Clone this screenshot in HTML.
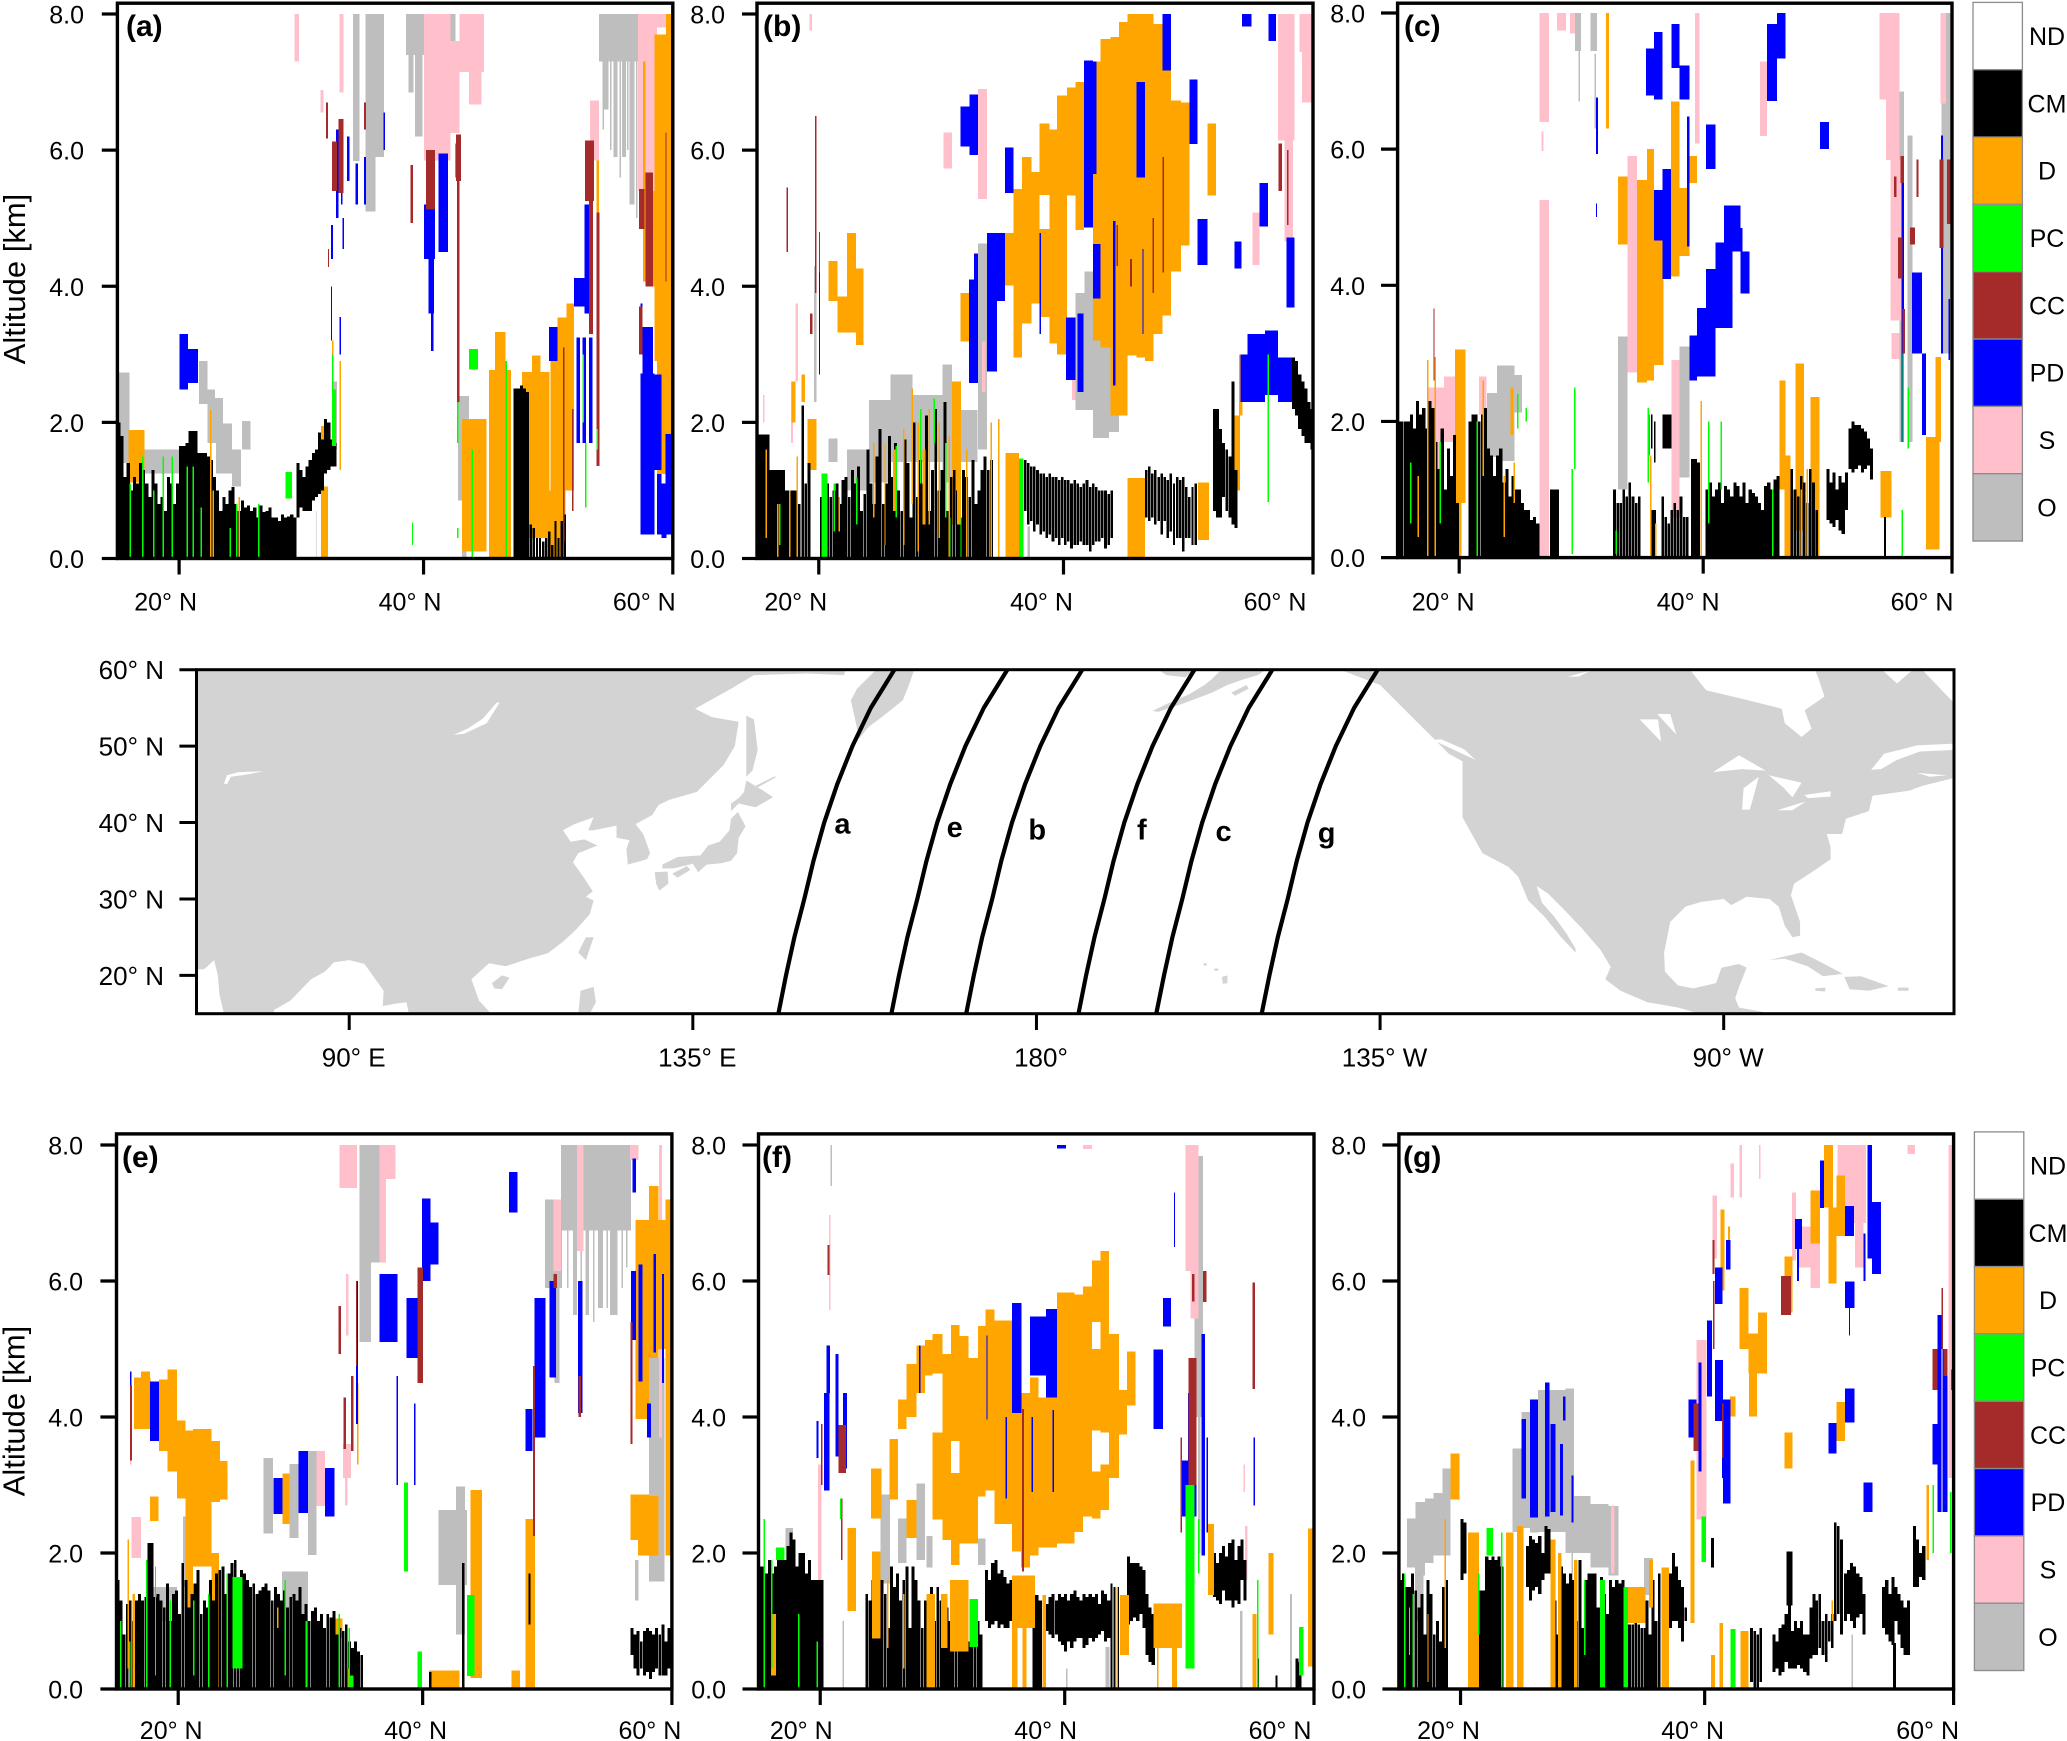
<!DOCTYPE html>
<html lang="en">
<head>
<meta charset="utf-8">
<title>Cloud and aerosol curtains along satellite tracks</title>
<style>
html,body{margin:0;padding:0;background:#fff;width:2067px;height:1741px;overflow:hidden}
svg{display:block}
text{font-family:"Liberation Sans",Arial,sans-serif;fill:#000}
</style>
</head>
<body>
<svg id="chart" xmlns="http://www.w3.org/2000/svg" width="2067" height="1741" viewBox="0 0 2067 1741">
  <rect x="0" y="0" width="2067" height="1741" fill="#fff"/>
  <g id="panels"></g>
  <g id="map"></g>
  <g id="legends"></g>
</svg>
<script>
// ---------- shared categories and ticks ----------
const classNames=['ND','CM','D','PC','CC','PD','S','O'];
const classColors=['#ffffff','#000000','#ffa500','#00ff00','#a52a2a','#0000ff','#ffc0cb','#bebebe'];
const latTicks=[20,40,60];
const latTickLabels=['20° N','40° N','60° N'];
const altTicks=[0,2,4,6,8];
const altTickLabels=['0.0','2.0','4.0','6.0','8.0'];
const colStep=0.25;

// ---------- panel (a): [lat0,lat1,altBottom,altTop] or thin [lat,altBottom,altTop]; CM runs: [startLat,base,tops,fill] ----------
const aO=[[15.1,16,1.4,2.73],[17,20.1,1.25,1.6],[21.6,22.3,2.3,2.9],[21.6,22.9,2.27,2.48],[22.3,23.55,1.7,2.36],[23,24.3,1.25,1.98],[24.3,25,1.06,1.6],[25.1,25.8,1.6,2.02],[34.1,34.6,5.84,8],[35.1,36.6,5.9,8],[35.1,35.9,5.1,6],[38.4,39.9,7.4,8],[38.6,39,6.85,7.4],[39.1,39.7,6.2,7.6],[41.8,42.4,7.5,8],[54,57.2,7.3,8],[53.6,53.8,5.96,6.73],[54.4,54.8,6.6,7.3],[55.2,55.5,5.9,7.3],[55.9,56.2,5.9,7.3],[56.5,56.9,5.2,7.3],[42.6,43.5,0.85,2.39],[42.9,43.3,0,0.85],[32.5,32.8,1.6,2.6],[31.1,31.15,0,0.7],[54.3,6.3,7.3],[54.9,6,7.3],[55.7,5.6,7.3],[56.3,6,7.3],[57,5,7.3]];
const aS=[[29.35,29.7,7.3,8],[31.45,31.7,6.55,6.88],[33,33.3,6.85,8],[39.85,42,5.85,8],[42,42.7,6.25,7.6],[42.7,44.7,7.15,8],[43.5,44.5,6.67,7.15],[53.3,54,5.85,6.73],[57.2,58.7,5.4,8],[58.7,59.5,7.8,8]];
const aD=[[15.9,17.2,1.12,1.89],[31.5,32.05,1.36,1.95],[31.5,32.05,0,1.06],[42.9,44.9,0.1,2.05],[45.1,46.9,0,2.77],[45.6,46.45,2.77,3.33],[47.8,50,0.3,2.74],[48.6,49.3,2.74,2.98],[50.1,52,1,3.2],[50.65,52,3.2,3.54],[51.4,52,3.54,3.75],[50,51.3,0,1],[58.5,60,3.5,7.7],[59.45,60,7.7,8],[57.6,57.8,4.07,7.3],[58,58.5,4,5.4],[58.7,60,1.24,2.9],[53.8,54,2,5.85],[58.5,60,2.9,3.5]];
const aCM=[
[15,0,[2,1.8,1.2,1.4,1,1.2,1.1,1.4,1.3,1.1,0.9,1.3,1.1,0.8,0.9,0.7,1.2,1.1,0.8,1.1,1.65,1.65,1.7,1.87,1.87,1.87,1.55,1.55,1.55,1.5,1.45,1.2,1,0.7,0.9,0.8,1,1.05,0.8,0.7,0.85,0.75,0.78,0.7,0.75,0.6,0.78,0.68,0.7,0.75,0.6,0.6,0.55,0.65,0.6,0.62,0.65,0.6],1],
[29.5,[0.6,0.75,0.7,0.7,0.7,0.85,0.9,0.95,1,1.25,1.3,1.35,1.35],[1.4,1.3,1.2,1.35,1.45,1.55,1.6,1.85,1.75,2.05,2,1.75,1.7],0.85],
[47.1,0,[2.5,2.5,2.54,2.5,2.45],1],
[48.4,0,[0.5,0.45,0.3,0.3,0.25,0.3,0.4,0.2,0.55,0.3,0.55,0.65],0.6]];
const aPD=[[20.03,20.72,2.48,3.3],[20.72,21.55,2.58,3.08],[32.7,32.9,5,6.3],[33.1,33.25,5.2,5.9],[33.6,33.8,5.55,6.2],[34.3,34.5,5.2,5.8],[35,35.15,5.2,5.9],[36.55,36.7,6,6.55],[32.3,32.45,4.4,4.9],[33.25,33.35,4.55,5],[32.3,32.4,3.2,4],[33,33.1,3,3.55],[39.85,40.75,4.4,5.2],[40.2,40.65,3.6,4.4],[40.4,40.6,3.05,3.6],[41,41.8,4.5,5.95],[42.4,42.6,5.6,6.1],[49.95,50.65,2.9,3.4],[52,53.1,3.7,4.12],[52.85,53.2,3.6,5.2],[52.2,52.5,1.7,3.25],[52.7,52.95,1.7,3.25],[53.2,53.5,1.7,3.25],[57.4,58.5,0.35,2.72],[58.7,59.1,0.35,1.24],[59.1,59.5,0.3,1.1],[58.5,59.1,1.3,2.7],[57.55,58.4,2.72,3.4],[57.4,57.55,3.4,3.75],[59.4,60,0.35,1.83]];
const aCC=[[31.9,32.05,6.17,6.7],[32.4,32.8,5.4,6.13],[32.9,33.3,5.37,6.46],[35,35.15,6.3,6.7],[32.05,32.15,4.28,4.55],[40,40.75,5.13,6],[38.75,38.95,4.93,5.78],[42.45,42.85,5.55,6.23],[42.5,42.7,2.3,5.55],[52.9,53.6,5.25,6.14],[53.2,53.55,3.3,5.25],[53.8,54.05,1.36,5.08],[57.25,57.7,4.84,5.43],[57.8,58.4,4,5.67],[57.25,57.55,3,3.7],[59.4,59.5,4.07,6.26],[51.1,0.25,3.1],[51.85,0.7,2.2]];
const aPC=[[32.4,32.7,1.65,2.48],[32.4,2.48,3],[28.6,29.15,0.88,1.27],[43.5,44.2,2.78,3.08],[16,0,1.1],[17,0,1.5],[17.9,0,1],[18.65,0,1.5],[19.4,0,1.5],[20.6,0,1.35],[21.1,0,1.35],[21.75,0,0.75],[24.1,0,0.45],[24.6,0,0.8],[26.4,0,0.8],[43.7,0,1.6],[42.5,1.7,2.3],[42.5,0.3,0.45],[38.85,0.2,0.53],[46.45,0,2.9],[52.9,0.75,1.7],[53.8,1.6,1.9],[52.7,2,3]];
const aDo=[[22.5,0,2.18],[22.7,0,1],[24.8,0,0.9],[32.4,2.5,3.2],[33,1.3,2.9]];

// ---------- panel (b) ----------
const bO=[[24.05,25.8,1.12,2.33],[22.3,24.05,1,1.6],[25.8,27.6,1.42,2.7],[27.6,30,1.42,2.4],[30,30.8,1.12,2.85],[31.45,32.85,1.42,2.18],[32.9,33.6,1.6,4.63],[20.8,21.5,1.42,1.76],[40.77,42.2,2.18,3.9],[41.5,42.18,3.9,4.22],[42.18,43.25,2.07,3.42],[43.25,44.3,1.86,3.13],[42.18,43.5,1.77,2.07],[36.9,37.1,0,0.47],[19.6,19.8,2.3,4.3]];
const bS=[[19.26,19.47,7.76,8],[30.1,30.8,5.73,6.26],[32.9,33.6,5.28,6.9],[33.2,33.5,2.45,3.19],[18.13,18.3,2.6,3.75],[17.75,17.9,1.7,2.6],[15.5,15.6,2,2.4],[55.1,55.67,4.31,5.08],[57.15,58.5,6.14,8],[57.7,58.4,4.66,6.14],[58.9,60,7.44,8],[59.1,60,6.7,7.44],[46.9,47,6.5,8],[48.1,48.2,5.5,6.85],[40.5,40.77,2.33,2.77]];
const bD=[[20.8,21.5,3.78,4.37],[21.5,22.3,3.32,3.85],[22.3,23,3.32,4.78],[23,23.6,3.14,4.26],[31.45,32.15,3.19,3.9],[35.07,35.74,4.01,4.78],[35.74,36.44,2.95,5.43],[36.44,37.2,3.45,5.9],[37.2,37.85,3.75,5.68],[37.85,38.66,5.34,6.39],[37.85,38.66,3.55,4.84],[38.66,39.3,3.16,6.3],[39.3,40.07,3,6.8],[40.07,40.77,5.33,6.92],[40.77,41.48,4.83,7],[41.48,42.18,5,7.3],[42.18,42.8,3.2,7.3],[42.8,43.6,3.1,7.63],[43.6,44.3,2.1,7.66],[44.3,45,2.1,2.95],[44.3,45,2.95,7.88],[45,45.7,2.98,8],[45.7,46.4,2.95,8],[46.4,47.1,2.9,8],[47.1,47.8,3.3,7.85],[47.8,48.5,3.57,7.17],[48.5,49.3,4.22,6.73],[49.3,50,4.6,6.7],[51.45,52.15,5.33,6.39],[30.8,31.5,0.5,2.6],[45,46.4,0,1.18],[50.7,51.6,0.27,1.12],[35.1,36.2,0,1.55],[54,54.3,2.1,3],[53.6,54.1,1,2.1],[19.1,19.8,1.3,2.05],[18.6,18.9,2.3,2.7],[17.8,18.1,2,2.6]];
const bCM=[
[15,0,[1.82,1.82,1.82,1.82,1.3,1.3,1.3,1.3,1.3,1,1,1,1,0.8],1],
[18.6,0,[2.25,1.1,1.4],0.7],
[20.1,0,[0.9,1.2,1.1,0.9,1,1.1,0.8,1.15,1.2,0.9,1.3,1.1,1.35,0.7,0.95,1.6,1.1,0.8,1.5,1.9,0.8,1.1,1.8,1.2,1.7,1,0.7,1.75,1.4,0.6,2,0.9,1.45,1.1,2.1,0.7,1.3,2.2,1,1.3,2.3,0.7,1.2,1.3,1,0.6,1.3,1.2,0.9,1.45,0.8,1,1.3,1.5,1.3,1.45],0.8],
[36.6,[0.7,0.5,0.55,0.4,0.5,0.35,0.4,0.3,0.35,0.25,0.3,0.2,0.3,0.2,0.25,0.15,0.2,0.2,0.25,0.2,0.2,0.1,0.2,0.25,0.25,0.3,0.15,0.2,0.3],[1.45,1.4,1.35,1.35,1.3,1.25,1.25,1.2,1.25,1.2,1.2,1.15,1.2,1.15,1.15,1.1,1.15,1.1,1.05,1.1,1.15,1.05,1.1,1.05,1,1,1,0.95,1],0.7],
[46.4,[0.6,0.55,0.6,0.5,0.55,0.35,0.55,0.3,0.4,0.2,0.3,0.3,0.1,0.3,0.3,0.2,0.2],[1.3,1.35,1.25,1.3,1.2,1.25,1.2,1.15,1.25,1.1,1.2,1.15,1.2,1.05,0.9,1.05,1.1],0.65],
[51.9,[0.7,0.6,0.6,0.9,0.7,0.6,0.5,0.45],[2.2,2.2,1.9,1.7,1.6,1.5,1.7,1.3],0.8],
[53.4,1.7,[2.6],1],
[58.3,[2.2,2.1,1.9,1.8,1.7,1.7,1.6,0],[2.95,2.9,2.7,2.6,2.5,2.3,2.2,1.7],0.9]];
const bPD=[[31.45,32.2,6.05,6.64],[32.2,32.9,5.93,6.82],[35.07,35.74,5.37,6.04],[41.48,42.18,4.86,7.32],[42.18,42.47,5.65,7.3],[47.8,48.5,7.17,8],[45.7,46.4,5.6,7],[50,50.67,6.09,7.04],[50.67,51.45,4.31,4.99],[53.63,54.2,4.26,4.66],[55.67,56.37,4.88,5.52],[54.26,55.04,7.82,8],[56.4,57,7.6,8],[42.18,42.8,3.82,4.62],[32.15,32.9,2.58,4.1],[32.55,32.9,4.1,4.48],[33.63,34.44,2.75,4.78],[34.44,35.07,3.78,4.78],[40,40.77,2.62,3.54],[40.95,41.44,2.45,3.6],[37.85,38,3.3,4.78],[43.8,44,2.54,4.96],[57.85,58.5,3.69,4.72],[54.15,54.7,2.3,3],[54.7,56.1,2.3,3.3],[56.1,57.15,2.4,3.35],[57.15,58.3,2.3,2.95],[46.2,46.3,3.3,4.55],[20,20.1,2.7,4.3]];
const bCC=[[19.7,19.8,3.9,6.5],[17.4,17.5,4.5,5.45],[20,20.1,4.2,4.8],[19.3,19.5,3.3,3.6],[57.2,57.5,5.4,6.1],[57.9,58,4.9,6],[47.8,47.95,4.2,5.9],[45.2,45.35,4,4.4],[47,3.9,5],[44.1,4.3,4.9]];
const bPC=[[36.2,36.55,0,1.47],[20.2,20.7,0,1.25],[56.3,56.45,0.83,3],[16.8,0.2,0.8],[21.2,0.4,1.1],[23,0.5,1.2],[26.2,0.6,1.65],[28.2,1.1,2.2],[29.3,1.7,2.35],[30.2,0.6,1.7],[30.55,0,0.6],[31.45,0,0.6]];
const bDo=[[15.7,0.3,1.6],[16.6,0,0.8],[17.6,0,1],[18.2,0,1.5],[21.6,0.4,0.9],[24.4,0.6,1.7],[25.3,0.2,1.7],[26.8,0.2,1.9],[27.5,0.8,2.5],[28,0.1,2],[28.9,0.5,2.2],[29.7,0.3,2],[30.5,0,1.8],[31.9,0,1.6],[33.9,0,2],[34.5,0,2.05],[35.2,0,1.5],[26,26.25,0.7,1.6],[28.4,28.65,0.5,1.6],[31.2,31.45,0.5,1.4]];

// ---------- panel (c) ----------
const cO=[[32.9,33.65,1,3.25],[37.87,38.7,1.18,3.1],[23.05,24.5,1.42,2.82],[24.5,25.1,2.13,2.68],[22.25,23.6,1.48,2.42],[29.4,29.9,7.44,8],[30.65,31.2,7.44,8],[55.75,56.1,1.7,6.85],[56.4,56.8,1.7,6.2],[59.15,60,3,8],[29.7,29.8,6.7,7.44],[31,31.1,6.3,7.4]];
const cS=[[26.5,27.3,6.4,8],[26.7,26.85,5.97,6.26],[26.5,27.3,0,5.25],[27.95,28.65,7.74,8],[33.65,34.45,2.72,5.9],[37.25,37.87,0.59,2.9],[44.4,45,6.19,7.29],[17.45,18.75,1.24,2.5],[18.75,19.65,1.7,2.66],[21.6,22.2,2.1,2.66],[54.1,55.75,6.73,8],[54.65,55.75,5.84,6.73],[55,55.9,3.48,5.84],[55.1,55.75,2.92,3.3],[59.05,59.5,6.67,8],[39.15,39.5,6.08,8],[29,29.4,7.7,8]];
const cD=[[32.9,33.65,4.6,5.6],[34.45,35.25,2.57,5.55],[35.25,35.8,2.6,6],[35.8,36.6,2.83,4.72],[37.2,37.87,4.13,6.7],[36.6,37.2,4.2,5.5],[37.87,38.7,4.43,5.43],[38.7,39.3,5.5,5.9],[19.65,20.5,0.8,3.06],[19.9,20.2,0,1],[24.15,24.4,1.8,2.5],[31.9,32.15,6.3,8],[46,46.5,1,2.6],[46.5,46.9,0,1.5],[47.3,48,0.4,2.85],[48.5,49.25,0,2.36],[54.2,55.1,0.59,1.27],[57.9,59,0.12,1.77],[58.65,59.1,1.7,2.95]];
const cCM=[
[15,0,[2,2,2,2,2.1,1.9,2.3,2.1,2.2,1.9,2.3,2.2,1.7,1.3,1.9,1,1.6,1.2,1.8,0.8,0,0,0,2,2.1,2.1,2,2.1,2.2,1.6,1.5,1.2,1.5,1.6,1.1,1.3,0.9,1.2,1,1,0.8,0.7,0.7,0.55,0.6,0.5],0.85],
[27.35,0,[1,1,1],1],
[32.5,0,[1,0.8,0.8,1,0.9,1.1,0.9,0.8,0.9,0,0,0,0.7,0.7],0.7],
[35.3,[1.5,1.6,1.4],[2.1,2.1,2],0.4],
[36.5,1.6,[2.1,2.1,2.1],1],
[36.4,0,[0.9,0.6,0.5,0.7,0.8,0.7,0.9,0.6,0.6],0.7],
[38.8,0,[1.45,1.45,1.4],1],
[40,0,[1,1.1,0.9,1,1.1,0.8,1.05,1,0.9,1.1,1.05,0.9,1.1,0.8,1,0.95,0.9,0.8,0.7,1.05,1.1,1,1.15,1.2],0.9],
[46.9,0,[1.3,1,0.9,1.2,1.1,0.8,1.3,1.1,0.7],0.7],
[49.8,[0.55,0.5,0.45,0.55,0.4,0.35,0.7],[1.3,1.1,1.25,1,1.2,1.1,1.25],1],
[51.6,[1.3,1.25,1.3,1.35,1.25,1.3,1.35,1.15],[1.9,2,1.95,1.95,1.9,1.85,1.75,1.6],1],
[54.5,0,[0.6],0.5]];
const cPD=[[35.15,35.8,6.79,7.48],[35.8,36.5,6.73,7.72],[37.25,37.87,7.19,7.84],[37.87,38.7,6.73,7.23],[45,45.8,6.71,7.84],[45.8,46.5,7.33,8],[40.05,40.8,5.71,6.36],[49.3,50,6,6.4],[36.5,37.2,4.09,5.71],[35.8,36.5,4.66,5.4],[38.5,38.7,4.57,6.48],[41.5,42.85,4.63,5.17],[40.8,42.2,3.37,4.63],[42.2,43,4.5,4.84],[42.85,43.57,3.88,4.5],[40.05,41.5,3.51,4.24],[39.3,40.8,2.66,3.67],[38.7,39.3,2.6,3.26],[31.1,31.25,5.93,6.76],[31.1,31.2,5,5.2],[56.75,57.55,3,4.19],[57.55,57.9,1.8,3],[55.9,56.1,1.7,5.5],[59.1,59.25,3,6.2],[59.7,59.85,2.9,3.8]];
const cCC=[[17.9,18,2.6,3.66],[55.8,56.1,5.5,5.9],[55.3,55.5,5.3,5.6],[55.6,56,4.1,4.7],[56.6,57,4.6,4.85],[57.1,57.3,5.3,5.85],[56,56.2,3,3.65],[59,59.3,4.55,5.85],[59.6,59.9,4.9,5.85]];
const cPC=[[21.4,0,2],[18.4,0.5,1.7],[16,0.5,1.4],[24.7,1.9,2.4],[29.3,1.3,2.5],[29.1,0.05,1.3],[25.4,2,2.2],[35.3,1.1,2.2],[32.7,0.05,0.4],[41.2,1,2],[40.2,0.5,2],[45.4,0,1],[56,1.7,3],[56.4,1.6,2.5],[55.9,0,0.7]];
const cDo=[[16,0.5,1.3],[16.6,0.3,1.2],[17.4,0,2.9],[18,0,2.95],[21.9,1.2,2.6],[23.6,0.3,1.2],[24.4,0.8,1.4],[35.5,0,1.5],[35.9,0,0.5],[39.6,0,2.3],[46.4,0,1.5],[47.7,0,1],[48.2,0,1.3]];

// ---------- panel (e) ----------
const eO=[[20.4,21.2,1.5,2.54],[26.9,27.7,2.29,3.4],[29,29.75,2.22,3.31],[30.5,31.2,1.97,3.5],[28.4,30.5,0,1.73],[17.9,19.9,1,1.5],[34.7,36.3,6.27,8],[34.7,35.6,5.1,6.27],[41.1,43.4,1.53,2.63],[42.5,43.25,0.8,2.98],[51,56.7,6.74,8],[49.7,51.1,5.9,7.2],[52,52.3,5.5,6.74],[53,53.3,5.5,6.74],[54,54.4,5.6,6.74],[55,55.6,5.5,6.74],[58.15,59.4,1.58,4.87],[57,57.3,1.3,1.9],[50.5,50.9,4.5,5.9],[51.5,5.9,6.74],[52.6,5.6,6.74],[53.6,5.4,6.74],[54.7,5.6,6.74],[55.9,5.9,6.74],[56.3,6.2,6.74]];
const eS=[[16.2,17,1.93,2.53],[31.2,31.9,2.69,3.5],[33.05,34.5,7.37,8],[33.35,34,3.1,3.6],[33.5,33.7,2.7,3.1],[33.6,33.8,5.2,6.1],[36.3,37.6,7.5,8],[36.3,36.85,6.27,7.5],[50.4,51,6.15,7.2],[52.3,52.85,6.44,8],[56.6,57.3,7.78,8],[58.95,59.2,3.7,8],[16.1,16.2,3.3,4]];
const eD=[[16.4,17.75,3.82,4.58],[17,17.7,4.05,4.67],[18.45,19.15,3.5,4.55],[19.15,19.9,3.2,4.7],[19.9,20.6,2.8,3.95],[20.6,21.2,1.2,3.8],[21.2,22.7,1.8,3.82],[22.7,23.4,2.75,3.65],[23.4,24,2.79,3.35],[17.7,18.4,2.47,2.83],[22.7,23.3,0,2],[28.45,29,2.43,3.17],[32.65,33.3,0.75,1.04],[40.3,42.8,0,0.27],[43.7,44.6,0.16,2.93],[48.15,48.9,0,2.5],[47,47.7,0,0.27],[56.65,58.15,2.19,2.86],[57.25,58.9,1.96,2.84],[57.05,58.15,3.97,6.9],[58.15,58.9,4.87,7.4],[58.9,60,5,6.9],[59.5,60,1.96,7.2]];
const eCM=[
[15,0,[1.6,1.3,0.8,1.25,1.3,1,1.3,1.4,1.3,1.35,2.15,2.15,1.35,1.4,1.3,1.2,1.55,1,1.4,1.45,1.1,1.85,1.6,1.2,1.4,1.55,1.75,1.1,1.3,1.2,1.6,1.3,1.7,1.75,1.8,1.4,1.7,1.85,1.9,1.5,1.75,1.7,1.6,1.5,1.55,1.4,1.45,1.5,1.55,1.45,1.3,1.5,1.4,1.3,1.45,1.2,1.35,1.4,1.3,1.5,1.1,1.25,1,1.15,1.2,1,1.1,0.9,1.1,1.05,1.15,0.8,0.9,0.85,0.95,0.7,0.6,0.7,0.55,0.5],0.8],
[56.65,[0.5,0.3,0.2,0.3,0.2,0.25,0.15,0.25,0.3,0.2,0.2,0.2,0.3,0.1],[0.9,0.8,0.85,0.7,0.85,0.9,0.85,0.8,0.9,0.8,0.95,0.7,0.9,0.75],0.8],
[40.3,0,[0.25],0.8],
[43,0,[1.85],0.7],
[48.4,0.95,[1.7],0.4]];
const ePD=[[17.7,18.45,3.65,4.52],[16.1,4,4.67],[27.7,28.45,2.57,3.1],[29.75,30.5,2.59,3.5],[31.9,32.65,2.54,3.25],[46.8,47.5,7.01,7.6],[39.75,40.45,6,7.21],[40.2,41.1,6.24,6.86],[36.3,37.75,5.1,6.1],[38.5,39.75,4.87,5.75],[48.15,48.7,3.5,4.12],[48.85,49.75,3.7,5.75],[50.1,50.6,4.58,6],[52.4,52.75,4.06,6],[56.8,57.1,7.3,7.8],[56.7,57.1,5.13,6.15],[57.3,57.6,4.52,6.24],[58.5,58.7,4.95,6.4],[58,58.3,3.7,4.2],[59.2,59.35,4.5,6.1],[34.4,34.55,3.9,6],[37.7,3,4.6],[39.1,3,4.2]];
const eCC=[[33,33.2,4.93,5.63],[33.4,33.6,3.53,4.29],[34,34.2,3.5,4.6],[34.4,34.5,4.75,6],[16.1,16.25,3.36,4.47],[39.4,39.85,4.5,6.2],[48.75,48.9,2.25,4.75],[50.4,50.7,5.9,6.1],[52.45,52.65,4,4.6],[56.65,56.8,3.6,5.4]];
const ePC=[[38.3,38.6,1.73,3.04],[43.4,44,0.19,1.38],[33.8,34.2,0,0.2],[39.4,39.75,0,0.55],[24.4,25.2,0.3,1.65],[33.8,0,0.9],[15.3,0,1],[16,0,0.7],[17.4,0,1.9],[18.1,0.2,1.8],[19.3,0,1.3],[21.2,0.2,1.3],[22.4,0,1.4],[23.9,0,1.7],[28.6,0.2,1.6],[30.3,0,1],[33,0,1.1]];
const eDo=[[16.3,16.5,0,1.4],[15.9,0.3,2.2],[33.7,33.9,0,0.3],[28,0.9,1.2],[34.5,3.3,4.5]];

// ---------- panel (f) ----------
const fO=[[17.2,17.8,1.79,2.37],[24.9,25.65,1.55,2.86],[26.3,27,1.85,2.51],[27.8,28.5,1.9,3.02],[28.6,29.1,1.79,2.25],[32.8,33.4,1.82,2.21],[31.1,31.2,2,2.6],[50.3,51,4,7.84],[50.6,50.8,2,4],[20.85,20.95,7.4,8],[43.1,43.45,0,0.62],[58.05,58.2,0,1.4],[54,54.2,0,1.15],[39.9,0,0.3],[21.8,0,1]];
const fS=[[41.3,42,7.94,8],[49.6,50,6.15,8],[50,50.65,5.45,8],[20.7,20.85,5.57,6.97],[19.8,20.1,1.55,3.3],[59.9,60,7.08,8],[54.4,54.6,1.6,2.4],[54.3,54.4,2.9,3.3]];
const fD=[[24.1,24.95,2.51,3.24],[25.6,26.3,2.79,3.68],[26.3,27,3.82,4.26],[27,27.8,4,4.78],[27,27.8,2.22,2.78],[27.8,28.5,4.35,5.05],[28.5,29.1,4.61,5.13],[29.1,29.9,2.49,3.77],[29.1,29.9,4.64,5.22],[29.9,30.6,2.19,4.93],[30.6,31.3,3.65,5.35],[30.6,31.3,1.82,3.18],[31.3,32,2.14,5.19],[32,32.8,2.14,4.87],[32.8,33.4,2.83,5.34],[33.4,34.1,2.92,5.58],[34.1,35.55,2.43,5.42],[35.55,36.25,2.02,4.17],[36.25,37,1.79,4.35],[37,37.7,1.96,4.58],[37.7,39.2,2.08,4.29],[39.2,40.6,2.14,5.83],[40.6,41.3,2.31,5.8],[41.3,42,2.54,5.92],[42,42.7,3.8,5],[42,42.7,2.51,3.2],[42,42.7,5.4,6.3],[42.7,43.4,3.77,6.44],[42.7,43.4,2.63,3.3],[43.4,44.2,3.1,5.22],[44.2,44.85,3.74,4.4],[44.85,45.55,4.17,4.96]];
const fCM=[
[15,0,[1.8,1.8,1.7,1.9,1.7,1.8,2,1.9,1.9,2.1,2.3,2.2,1.8,2,2,1.7,1.9,1.6,1.6,1.6,1.6],0.9],
[23.65,0,[1.4,1.3,1.6,1,1.8,1.6,1.4,0.9,1.8,1.5,1.7,1.3,1.6,1.8,0.9,1.8,1.6,1.3,0.9,1.3,1.1,1.5,1,1.5,1.3,0.9,1.2,1,1.5,0.8,1.1,0.9,1.3,0.7,1.3,0.9,1,0.8],0.8],
[33.35,[1,0.9,0.95,1,0.9,0.95,0.9,0.9,1],[1.75,1.6,1.85,1.9,1.7,1.75,1.65,1.55,1.6],1],
[37.2,0,[1.38,1.38,1.3],1],
[38,[0.9,0.85,0.8,0.75,0.8,0.7,0.65,0.55,0.7,0.6,0.7,0.75,0.75,0.6,0.65,0.75,0.7,0.75,0.8,0.85,0.7,0.75],[1.3,1.25,1.35,1.4,1.3,1.4,1.35,1.4,1.3,1.4,1.45,1.35,1.3,1.4,1.35,1.4,1.35,1.4,1.25,1.45,1.4,1.3],0.85],
[43.5,0,[1.55,1.5,1.5],0.6],
[44.85,[0.95,1,1.05,1,1.1,0.9,0.5,0.4,0.35],[1.95,1.85,1.85,1.85,1.8,1.75,1.4,1.2,1.1],0.95],
[51.55,[1.4,1.35,1.3,1.25,1.45,1.3,1.3,1.2,1.3,1.25,1.6,1.3],[1.9,2,1.85,2,2.1,1.95,2.15,2.2,1.9,2.1,2.2,1.9],0.9],
[55.4,0,[0.45],0.5],
[56.9,0,[0.2],0.5],
[58.5,0,[0.45,0.4],0.9]];
const fPD=[[35.55,36.3,4.06,5.68],[37,39.2,4.61,5.48],[38.3,39.2,4.29,5.59],[47.75,48.4,5.33,5.75],[47,47.75,3.82,4.99],[39.2,39.9,7.95,8],[20.3,20.75,2.92,4.35],[20.5,20.8,4.35,5.05],[21.25,21.5,3.42,4.93],[21.85,22.15,3.24,4.35],[19.7,19.85,3.4,3.94],[48.65,48.75,6.5,7.3],[49.3,50.5,2.54,3.36],[49.8,50.1,3.36,4.35],[50.9,51.15,1.96,5.22],[51.3,51.4,2.3,3.7],[50,50.2,0.39,0.74],[33.45,3.96,5.2],[35,2.8,4],[37.1,2.9,4],[38.8,2.9,4.1],[28,4.35,5.05],[55.1,2.7,3.7]];
const fCC=[[20.6,20.75,6.09,6.53],[21.5,22.1,3.18,3.88],[36.35,36.5,1.73,4.12],[55,55.2,4.41,5.98],[49.85,50.5,3,4.87],[51,51.3,5.69,6.15],[50.1,50.3,5.7,6.1],[20.05,3,3.9],[21.7,1.9,2.8],[49.2,2.3,3.7]];
const fPC=[[16.4,17.1,1.9,2.08],[32.1,32.8,0.62,1.32],[58.8,59.15,0.2,0.91],[49.6,50.3,0.3,3],[15.4,0,2.5],[16,0.3,1.9],[18.2,0,1.1],[19.7,0,0.7],[21.6,2.5,2.8],[55.4,0,1.6],[50.6,1.7,2.5]];
const fDo=[[22.2,22.9,1.15,2.37],[24.2,24.9,0.74,2.02],[28.6,29.3,0,1.4],[29.8,30.3,0.6,1.4],[30.5,32,0.55,1.6],[35.55,37.4,0.9,1.67],[35.55,36,0,0.9],[36.4,36.7,0,0.9],[38,38.3,0,1.38],[44.3,45,0.5,1.38],[47,49.3,0.6,1.26],[48.5,48.9,0,0.6],[51.4,51.9,1.38,2.43],[56.3,56.7,0.8,2],[55,55.35,0,1.1],[59.5,59.9,0.33,2.36],[16,16.4,0.2,1.1],[25.4,0.6,1.6],[26.7,0.3,1.4],[44,0,1.5],[47.3,0,0.8]];

// ---------- panel (g) ----------
const gO=[[15.65,16.35,1.79,2.51],[16.35,17.1,1.67,2.75],[17.1,17.8,1.85,2.8],[17.8,18.55,1.96,2.88],[18.55,19.17,1.96,3.24],[24.2,24.95,2.31,3.54],[24.95,25.65,2.37,4.07],[25.65,26.3,2.3,4.07],[26.3,28.5,2.31,4.4],[28.5,29.2,2,4.42],[29.2,30.55,2,2.84],[30.55,32,1.79,2.72],[32,32.8,1.67,2.69],[34.9,35.6,1.38,1.93],[16.3,17,1,1.8],[51.7,0,0.8],[29,0,2]];
const gS=[[39.15,39.95,2.49,5.13],[50.6,52.9,6.85,8],[52,52.7,6.2,6.85],[41.9,42.2,7.23,7.73],[42.65,42.85,7.23,8],[40.45,40.8,6.33,7.26],[47.3,48.4,6.2,6.8],[48.4,49.15,5.9,6.55],[56.25,56.85,7.87,8],[59.6,60,3.1,8],[46.9,47.2,6.3,7.3],[44.2,7.5,8],[32.2,32.5,1.7,2.7]];
const gD=[[19.17,19.9,2.79,3.46],[42.65,43.35,5,5.9],[43.35,44.15,4.64,5.23],[44.15,44.85,4.64,5.54],[43.4,44.05,4.01,4.64],[46.3,46.95,3.24,3.77],[50.5,51.2,3.65,4.22],[41.85,42.3,4.01,4.3],[46.3,46.95,5.54,6.36],[48.4,49.15,6.55,7.33],[49.5,50.2,7.08,8],[49.85,50.5,5.96,7.08],[50.5,51.2,6.66,7.55],[41.1,41.4,5.86,7.05],[41.7,41.85,6.2,6.8],[38.65,39,0.97,3.36]];
const gCM=[
[15,0,[1.6,1.7,1.5,1.5,1.7,1.45,1.2,1.4,0.8,1.6,1.4,0.8,1,0.7,1.5,1.6],0.8],
[20,[1.6,1.7],[2.5,2.45],0.8],
[21.5,0,[1.45,1.45,1.95,1.9,1.95,1.9,1.95,1.8],0.95],
[25.3,[1.5,1.3,1.45,1.5,1.4,1.6,1.7,1.7],[2.1,2.25,2.2,2.15,2.25,2,2.4,2.35],0.9],
[27.3,0,[1.9,1.3,0.8,1.8,1.7,1.55,1.7,1.6,1,1.9,0.9,1.6,1.7],0.85],
[30.55,0,[1.7,1.7,1.2,1.65,1.4,1.1,1.6,1.5,1.6,1.55,1.6,1.3],0.85],
[33.6,0,[0.95,0.95,1,0.95,0.9,0.9],0.7],
[35,0,[1.3,0.8,1.6,1,1.7],0.8],
[36.9,[0.9,1,1,0.9,0.7,1],[1.7,2,1.8,1.6,1.5,1.2],0.8],
[40.3,1.79,[2.22],1],
[43.5,[0.1,0,0,0.1],[0.9,0.85,0.8,0.9],0.7],
[45.3,[0.25,0.3,0.2,0.25,0.4,0.3,0.3,0.3,0.35,0.3,0.25,0.2,0.45,0.5],[0.8,0.7,0.9,0.95,1.1,1.3,0.85,1,0.9,1,0.8,0.8,1.2,1.4],0.85],
[46.45,1.23,[2.02,2.02],0.9],
[48.8,[0.5,0.6,0.5,0.4,0.7,0.6,1,1.1,0.8],[1.3,1.4,1,1.1,1,1.1,2.45,2.4,2.2],0.7],
[51.1,[1,1.1,1,0.9,1.05,1.1,0.8],[1.7,1.75,1.85,1.8,1.7,1.65,1.4],0.95],
[54.2,[0.9,0.8,0.7,0.65,1,0.8,0.6,0.5,0.5],[1.5,1.6,1.4,1.65,1.5,1.4,1.3,1.2,1.3],0.9],
[55.1,0,[0.68],0.7],
[56.7,[1.5,1.5,1.65,1.6],[2.4,2.2,2,2.1],0.9]];
const gPD=[[24.95,25.3,2.8,3.97],[25.65,26.3,2.52,4.26],[26.85,27.2,2.54,4.51],[27.3,27.7,2.6,3.9],[28.05,28.3,2.55,3.6],[28.3,28.5,3.95,4.3],[29,29.15,2.45,3.14],[38.5,39.15,3.7,4.26],[39.3,39.55,3.2,4.8],[40,40.4,4.3,5.42],[40.65,41.27,5.66,6.2],[41.55,41.9,6.17,6.6],[40.65,41.3,3.94,4.84],[41.2,41.9,3.1,4.26],[41.3,41.9,2.73,3.1],[49.15,49.5,7.07,7.77],[47.15,47.7,6.47,6.91],[47.3,47.45,6,6.47],[51.2,51.95,5.6,5.99],[51.5,51.6,5.2,5.6],[51.2,51.95,3.92,4.42],[49.85,50.5,3.46,3.91],[52.67,53.4,2.6,3.04],[53,53.4,6.33,8],[53.4,54.1,6.1,7.16],[51.2,51.9,6.66,7.1],[52.7,52.85,6,6.7],[58.7,59,2.6,5.5],[59.1,59.5,2.6,5],[58.3,58.8,3.3,3.9]];
const gCC=[[46,46.8,5.5,6.07],[40.45,40.6,6.1,6.6],[40.5,5,6],[41.2,3.4,4.2],[38.9,39.3,3.5,4.2],[58.3,58.7,4.4,5],[59.2,59.5,4.6,5],[59,59.15,5,5.9],[59.8,59.95,4.4,4.7]];
const gPC=[[22.1,22.65,1.96,2.37],[39.55,39.9,1.87,2.54],[41.9,42.3,0,0.88],[31.3,31.7,0,1.6],[33.2,33.6,0,1.5],[15.4,0,1.7],[16.1,0,1.4],[21.4,0.8,1.7],[23.3,0,2.3],[30,0.5,1.6],[58.3,2,3],[59.7,2,2.9]];
const gDo=[[20.6,21.5,0,2.3],[23.7,24.3,0,2.3],[24.6,25.1,0,2.4],[27.3,27.7,0,2.2],[27.9,28.2,0,2],[29.2,29.5,0,1.9],[33.6,35,0.97,1.5],[36.3,36.9,0,1.79],[35.3,35.6,1.2,1.9],[40.3,40.65,0,0.5],[41,41.3,0,0.97],[42.7,43.35,0,0.85],[57.8,58,1.9,3],[17.3,0.1,1.1],[18.7,0.6,2.5],[15.8,0.5,1.2],[50.1,1,1.3]];

// ---------- map data (lon 70..300 eastward, lat) ----------
const landAsia=[[70,60],[155,60],[154.8,59.3],[150,59.5],[143,59.3],[140,57.5],[135.3,54.9],[137.5,53.8],[141,53.2],[140.5,50],[139,47.5],[135.5,44],[132,43],[130.5,42.3],[129.7,41],[127.5,39.8],[128.5,38.5],[129.4,36],[129,35.2],[126.5,34.5],[126.3,36.5],[126.7,37.7],[125,38],[125,39.6],[122,39],[121.3,39],[122,40.7],[119.5,39.8],[118,39],[119,37.5],[120.8,37.8],[122.5,37],[120,36],[119.3,34.8],[120.8,32.7],[121.9,31],[121,30.3],[122,29.8],[121.5,28],[119.7,26],[118,24.4],[116,22.9],[113.5,22.2],[110.5,21.2],[108.3,21.6],[106,19.5],[107,16.7],[108.6,15],[97.8,15],[97.5,16.5],[96,16.3],[94.4,16],[94.5,18],[92,21.5],[90,22],[88,21.7],[86.8,20.5],[85,19.5],[82.3,16.7],[80.2,15.5],[80,15],[73.6,15],[73,17.5],[72.8,20],[72.3,22],[71,20.8],[70,20.8]];
const landSakhalin=[[142,54],[143,53.5],[143.5,49.5],[142.8,46.8],[142,46],[142,48],[142,50.5]];
const landHokkaido=[[140,41.5],[141,42.5],[143.2,42],[145.5,43.3],[144.5,44],[142,45.5],[141.7,44],[141,43.2],[140,42.5]];
const landHonshu=[[140.9,41.4],[141.9,39.5],[141,38],[140.8,36],[140,35],[138.8,34.7],[136.8,34.5],[135.7,33.5],[135,34.6],[132.5,34],[131,34],[131,34.5],[133,35.5],[136,35.7],[137,37],[138.5,37.5],[139.8,39],[140,40.5]];
const landShikoku=[[132.3,33.3],[134.2,34.3],[134.7,33.8],[133,32.8]];
const landKyushu=[[130,33.5],[131.7,33.6],[131.8,32],[130.6,31.1],[130.2,32]];
const landKamchatka=[[155.7,56],[156.8,51],[158,52.5],[160,54],[162.5,56],[163.3,58],[164,60],[159,60],[156.5,57.5]];
const landTaiwan=[[120,23],[121,25],[122,25],[121,22]];
const landHainan=[[108.7,19],[110,20],[111,19.7],[110,18.2],[109,18.3]];
const landLuzon=[[120,15],[120.3,18],[122,18.5],[122.3,16.5],[121.5,15]];
const landKuril=[[143.5,44.6],[146,46],[145.6,46],[143.2,44.8]];
const landAmerica=[[219.8,60],[225,58],[228,55],[231,52],[234,49],[235.8,48],[235.8,46.4],[235.8,40.7],[238.4,36],[241.8,34.2],[243.1,32.9],[244.4,29.8],[246.6,27.6],[248.7,25],[250.6,23],[250.6,23.5],[249.4,25.5],[247.8,27.7],[246.2,29.5],[245.5,31.7],[247,30.7],[248.7,29],[251.3,26.3],[253.9,23.3],[255.2,21.1],[254.5,19.5],[256.5,18],[260,16.5],[264,15.8],[266.8,15],[276.3,15],[272,15.8],[271.5,17],[272,18.5],[273,21],[272,21.5],[269.7,21],[269,19],[266,18.3],[264,18.7],[262.3,20.5],[262.2,23],[262.7,25.5],[263,27],[265,29],[267,29.6],[270,30],[271,29.2],[273,30.3],[276,30],[277.2,29],[278,26.5],[279,25],[280,25.2],[280,27],[278.8,30.5],[279.2,32],[282,33.8],[284,35.2],[284,36.8],[283.5,38.5],[285.5,38.5],[286,40.5],[289,41.5],[289.5,43.5],[294.4,44.2],[296,44.8],[300,45.8],[300,55.8],[296,60]];
const landAlaska=[[195.2,54.6],[197,55.5],[200,56.8],[202,58],[203,58.8],[204,59.8],[207,60],[210,60],[209,59.3],[207,58.7],[205,58],[203,57],[199,55.5],[196,54.5]];
const landBristol=[[196,60],[200.8,60],[199.5,59],[197,59.3]];
const landKodiak=[[205.5,57],[207.5,58],[207.8,57.5],[206,56.6]];
const landCuba=[[275.9,22],[280.2,23],[283,21.6],[285.6,20.2],[283,19.9],[281,21.2],[278,22.2]];
const landHispaniola=[[285.8,19.8],[288,19.9],[291.6,18.6],[289,18],[286.5,18.2]];
const landJamaica=[[282,18.3],[283.3,18.4],[283.3,17.9],[282,18]];
const landPuertoRico=[[292.8,18.4],[294.2,18.4],[294.2,18],[292.8,18]];
const landHawaii=[[204.3,19.8],[205,20],[205,19],[204.4,18.9]];
const landMaui=[[203.3,20.9],[203.8,20.9],[203.8,20.6],[203.3,20.6]];
const landOahu=[[201.9,21.6],[202.3,21.6],[202.3,21.3],[201.9,21.3]];
const lakeBaikal=[[103.7,51.5],[105,51.6],[108,53],[109.7,55.7],[109.3,55.7],[107.5,53.6],[105.5,52.3]];
const lakeBalkhash=[[73.6,45.1],[74,46.2],[75.5,46.6],[78.8,46.7],[76,46.2],[74.5,46],[74,45]];
const lakeHudson=[[265.5,60.1],[267.7,57.3],[272.4,56.2],[277.6,54.9],[278,53],[280.2,51.2],[281.5,52.3],[280.6,54.7],[283.2,56.5],[282.4,58.9],[281.9,60.1]];
const lakeUngava=[[290.6,60.1],[292.7,58.2],[294.9,60.1]];
const lakeStLawrence=[[289.3,46.9],[291,49],[295.3,50.1],[300,50.3],[300,49.5],[295.7,49.3],[292.7,48.2],[290.6,47]];
const lakeFundy=[[295.3,46.5],[299.2,46.2],[297,46]];
const lakeSuperior=[[268.6,46.6],[272,48.8],[275.5,46.8],[272.4,47]];
const lakeMichigan=[[272.4,41.7],[272.6,44.5],[274.6,46],[273.8,43],[273.4,41.7]];
const lakeHuron=[[275.9,46.2],[280.2,45.2],[279,43.3],[277.8,44.6]];
const lakeErie=[[277,41.6],[280.8,42.8],[279,41.6]];
const lakeOntario=[[280.6,43.6],[284,44.1],[284,43.4],[281,43.2]];
const lakeWinnipeg=[[259,53.5],[261.8,50.6],[261.4,53.5]];
const lakeManitoba=[[261.3,54.2],[263.8,51.5],[263,54.2]];
const lakeSlave=[[249.6,59.1],[252.6,59.9],[251,59.1]];
const lakeSalish=[[231.9,50.8],[234.5,49.6],[237.5,48.2],[236,49.6],[233,50.9]];
const trackLats=[15,20,25,30,35,40,45,50,55,60];
const trackALons=[146.2,147.2,148.3,149.6,150.8,152.2,153.9,155.9,158.3,161.4];
const trackELons=[161,162,163.1,164.4,165.6,167,168.7,170.7,173.1,176.2];
const trackBLons=[170.8,171.8,172.9,174.2,175.4,176.8,178.5,180.5,182.9,186];
const trackFLons=[185.5,186.5,187.6,188.9,190.1,191.5,193.2,195.2,197.6,200.7];
const trackCLons=[195.7,196.7,197.8,199.1,200.3,201.7,203.4,205.4,207.8,210.9];
const trackGLons=[209.5,210.5,211.6,212.9,214.1,215.5,217.2,219.2,221.6,224.7];
const trackNames=['a','e','b','f','c','g'];
const trackLabelLats=[39.9,39.4,39.1,39.1,38.9,38.7];
const trackLabelLons=[154.6,169.3,180.1,193.8,204.5,218];
const mapLatTicks=[20,30,40,50,60];
const mapLatLabels=['20° N','30° N','40° N','50° N','60° N'];
const mapLonTicks=[90,135,180,225,270];
const mapLonLabels=['90° E','135° E','180°','135° W','90° W'];

// ---------- renderer ----------
const NS='http://www.w3.org/2000/svg';
const panelConfigs=[
 {id:'a',x0:117.4,x1:672.8,y0:558.5,y8:14,top:3.2,tickLeft:101.8,labelRight:84,base:610.7,off:[-13.5,-13.5,-28.5],O:aO,S:aS,D:aD,CM:aCM,PD:aPD,CC:aCC,PC:aPC,Do:aDo},
 {id:'b',x0:757,x1:1313,y0:558.5,y8:14,top:3.2,tickLeft:742,labelRight:725,base:610.7,off:[-23,-22,-38],O:bO,S:bS,D:bD,CM:bCM,PD:bPD,CC:bCC,PC:bPC,Do:bDo},
 {id:'c',x0:1397.6,x1:1952,y0:557.6,y8:13,top:3.2,tickLeft:1381,labelRight:1365,base:610.7,off:[-16,-15,-30],O:cO,S:cS,D:cD,CM:cCM,PD:cPD,CC:cCC,PC:cPC,Do:cDo},
 {id:'e',x0:116.5,x1:671.9,y0:1689,y8:1145,top:1133.9,tickLeft:100.4,labelRight:83,base:1739,off:[-7,-7,-22],O:eO,S:eS,D:eD,CM:eCM,PD:ePD,CC:eCC,PC:ePC,Do:eDo},
 {id:'f',x0:758.5,x1:1314,y0:1689,y8:1145,top:1133.9,tickLeft:742.5,labelRight:726,base:1739,off:[-19,-19,-34],O:fO,S:fS,D:fD,CM:fCM,PD:fPD,CC:fCC,PC:fPC,Do:fDo},
 {id:'g',x0:1398.9,x1:1953.6,y0:1689,y8:1145,top:1133.9,tickLeft:1382.4,labelRight:1366,base:1739,off:[-12,-12,-26],O:gO,S:gS,D:gD,CM:gCM,PD:gPD,CC:gCC,PC:gPC,Do:gDo}
];
const labelStart={a:126,b:763,c:1404,e:122,f:762,g:1403};
const labelBase={a:36,b:36,c:36,e:1167,f:1167,g:1167};
const thinWidth=0.12;
function colorOf(name){return classColors[classNames.indexOf(name)];}
function xScale(p,lat){return p.x0+(lat-15)/45*(p.x1-p.x0);}
function yScale(p,alt){return p.y0-alt/8*(p.y0-p.y8);}
function mapX(lon){return 196.5+(lon-70)*7.636;}
function mapY(lat){return 669.7+(60-lat)*7.643;}
function make(tag,parent){const el=document.createElementNS(NS,tag);parent.appendChild(el);return el;}
function setAttrs(el,pairs){for(const k in pairs){el.setAttribute(k,pairs[k]);}}
function addText(parent,str,x,y,size,anchor,weight){
  const t=make('text',parent);
  setAttrs(t,{x:x,y:y,'font-size':size,'text-anchor':anchor,'font-weight':weight||'normal'});
  t.textContent=str;
  return t;
}
function addCell(g,p,cls,lat0,lat1,bot,top){
  const r=make('rect',g);
  setAttrs(r,{x:xScale(p,lat0).toFixed(2),y:yScale(p,top).toFixed(2),width:Math.max(0.5,xScale(p,lat1)-xScale(p,lat0)).toFixed(2),height:Math.max(0.5,yScale(p,bot)-yScale(p,top)).toFixed(2),fill:colorOf(cls)});
  
  
}
function drawCells(g,p,cls,list){
  list.forEach(function(c){
    if(c.length===3){addCell(g,p,cls,c[0],c[0]+thinWidth,c[1],c[2]);}
    else{addCell(g,p,cls,c[0],c[1],c[2],c[3]);}
  });
}
function drawRuns(g,p,cls,runs){
  runs.forEach(function(run){
    const start=run[0],base=run[1],tops=run[2],fill=Math.min(1,run[3]+0.14);
    tops.forEach(function(top,i){
      if(top<=0){return;}
      const b=Array.isArray(base)?base[i]:base;
      const lat=start+i*colStep;
      addCell(g,p,cls,lat,lat+colStep*fill,b,top);
    });
  });
}
const defs=make('defs',document.getElementById('chart'));
const panelsG=document.getElementById('panels');
panelConfigs.forEach(function(p){
  const clip=make('clipPath',defs);
  clip.setAttribute('id','clip-'+p.id);
  const cr=make('rect',clip);
  setAttrs(cr,{x:p.x0,y:p.top,width:p.x1-p.x0,height:p.y0-p.top});
  const g=make('g',panelsG);
  
  
  const marks=make('g',g);
  marks.setAttribute('clip-path','url(#clip-'+p.id+')');
  marks.setAttribute('shape-rendering','crispEdges');
  
  
  drawCells(marks,p,'O',p.O);
  drawCells(marks,p,'S',p.S);
  drawCells(marks,p,'D',p.D);
  drawRuns(marks,p,'CM',p.CM);
  drawCells(marks,p,'D',p.Do);
  drawCells(marks,p,'PD',p.PD);
  drawCells(marks,p,'CC',p.CC);
  drawCells(marks,p,'PC',p.PC);
  const frame=make('rect',g);
  setAttrs(frame,{x:p.x0,y:p.top,width:p.x1-p.x0,height:p.y0-p.top,fill:'none',stroke:'#000','stroke-width':3.4});
  
  
  altTicks.forEach(function(a,i){
    const y=yScale(p,a);
    const l=make('line',g);
    setAttrs(l,{x1:p.tickLeft,x2:p.x0,y1:y,y2:y,stroke:'#000','stroke-width':3.2});
    
    
    const t=addText(g,altTickLabels[i],p.labelRight,y+9.5,25,'end');
    
    
  });
  latTicks.forEach(function(lat,i){
    const x=lat===60?p.x1:p.x0+(lat-15)/45*(p.x1-p.x0)-(lat===40?2.4:0);
    const l=make('line',g);
    setAttrs(l,{x1:x,x2:x,y1:p.y0,y2:p.y0+16,stroke:'#000','stroke-width':3.2});
    
    
    const t=addText(g,latTickLabels[i],x+p.off[i],p.base,25,'middle');
    
    
  });
  const pl=addText(g,'('+p.id+')',labelStart[p.id],labelBase[p.id],30,'start','bold');
  
  
});
[[25,279,'a'],[24.5,1411,'e']].forEach(function(v){
  const t=addText(panelsG,'Altitude [km]',v[0],v[1],31,'middle');
  t.setAttribute('transform','rotate(-90 '+v[0]+' '+v[1]+')');
  
  
});

// map
const mapG=document.getElementById('map');
const mapClip=make('clipPath',defs);
mapClip.setAttribute('id','clip-map');
const mapClipRect=make('rect',mapClip);
setAttrs(mapClipRect,{x:196.5,y:669.7,width:1757.5,height:344});
const geo=make('g',mapG);
geo.setAttribute('clip-path','url(#clip-map)');


function drawPoly(parent,pts,fill,name){
  const el=make('polygon',parent);
  el.setAttribute('points',pts.map(function(q){return mapX(q[0]).toFixed(1)+','+mapY(q[1]).toFixed(1);}).join(' '));
  el.setAttribute('fill',fill);
  
  
}
[landAsia,landSakhalin,landHokkaido,landHonshu,landShikoku,landKyushu,landKamchatka,landTaiwan,landHainan,landLuzon,landKuril,landAmerica,landAlaska,landBristol,landKodiak,landCuba,landHispaniola,landJamaica,landPuertoRico,landHawaii,landMaui,landOahu].forEach(function(poly){drawPoly(geo,poly,'#d3d3d3','land-mass');});
[lakeBaikal,lakeBalkhash,lakeHudson,lakeUngava,lakeStLawrence,lakeFundy,lakeSuperior,lakeMichigan,lakeHuron,lakeErie,lakeOntario,lakeWinnipeg,lakeManitoba,lakeSlave,lakeSalish].forEach(function(poly){drawPoly(geo,poly,'#ffffff','water-body');});
[trackALons,trackELons,trackBLons,trackFLons,trackCLons,trackGLons].forEach(function(lons,i){
  const line=make('polyline',geo);
  setAttrs(line,{points:lons.map(function(lon,j){return mapX(lon).toFixed(1)+','+mapY(trackLats[j]).toFixed(1);}).join(' '),fill:'none',stroke:'#000','stroke-width':4.2,'stroke-linejoin':'round'});
  
  
  const t=addText(mapG,trackNames[i],mapX(trackLabelLons[i]),mapY(trackLabelLats[i])+10,29,'middle','bold');
  
  
});
const mapFrame=make('rect',mapG);
setAttrs(mapFrame,{x:196.5,y:669.7,width:1757.5,height:344,fill:'none',stroke:'#000','stroke-width':3});


mapLatTicks.forEach(function(lat,i){
  const y=mapY(lat);
  const l=make('line',mapG);
  setAttrs(l,{x1:179.4,x2:196.5,y1:y,y2:y,stroke:'#000','stroke-width':3});
  
  
  const t=addText(mapG,mapLatLabels[i],164,y+9.5,26,'end');
  
  
});
mapLonTicks.forEach(function(lon,i){
  const x=mapX(lon);
  const l=make('line',mapG);
  setAttrs(l,{x1:x,x2:x,y1:1013.7,y2:1030,stroke:'#000','stroke-width':3});
  
  
  const t=addText(mapG,mapLonLabels[i],x+4.5,1066.7,26,'middle');
  
  
});

// legends
const legendBoxes=[{x0:1973,x1:2022.4,y0:2.4,seg:67.33,tx:2047},{x0:1974.4,x1:2023.8,y0:1131.9,seg:67.33,tx:2048}];
const legendsG=document.getElementById('legends');
legendBoxes.forEach(function(b,n){
  const g=make('g',legendsG);
  
  
  classNames.forEach(function(name,i){
    const r=make('rect',g);
    setAttrs(r,{x:b.x0,y:b.y0+i*b.seg,width:b.x1-b.x0,height:b.seg,fill:classColors[i],stroke:'#8c8c8c','stroke-width':1.3});
    
    
    const t=addText(g,name,b.tx,b.y0+(i+0.5)*b.seg+9,25,'middle');
    
    
  });
});
</script>
</body>
</html>
